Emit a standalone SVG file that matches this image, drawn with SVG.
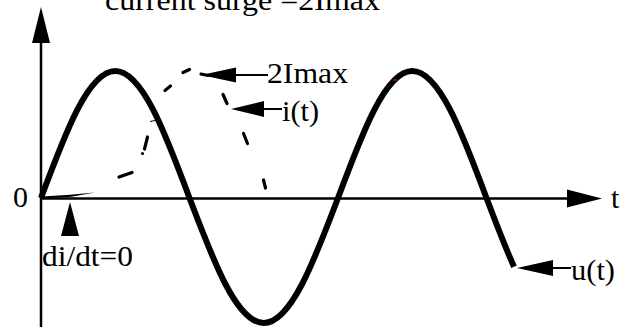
<svg xmlns="http://www.w3.org/2000/svg" width="624" height="327" viewBox="0 0 624 327">
<style>
text{font-family:"Liberation Serif","Times New Roman",serif;font-size:30px;fill:#000}
.ax{stroke:#000;stroke-width:2.5;fill:none}
.ln{stroke:#000;stroke-width:2;fill:none}
.hd{fill:#000;stroke:none}
.dash{stroke:#000;stroke-width:3.2;fill:none;stroke-linecap:round}
</style>
<rect width="624" height="327" fill="#fff"/>
<g id="axes">
<line class="ax" x1="41" y1="40" x2="41" y2="327"/>
<polygon class="hd" points="41,7 32,43 50,43"/>
<line class="ax" x1="41" y1="198.5" x2="570" y2="198.5"/>
<polygon class="hd" points="602,198.5 567,189.5 567,207.5"/>
</g>
<g id="u-curve">
<path d="M41,198 C65.22,132.94 88.38,71 115.25,71 C142.12,71 165.28,132.94 189.5,198 C213.72,262.04 236.88,323 263.75,323 C290.62,323 313.78,262.04 338,198 C362.22,132.94 385.38,71 412.25,71 C439.12,71 462.28,132.94 486.5,198 C495.67,222.25 504.83,246.45 514,266.7" fill="none" stroke="#000" stroke-width="6" stroke-linejoin="round"/>
<line x1="393.5" y1="80" x2="397" y2="80" stroke="#d00" stroke-width="1.5"/>
</g>
<g id="i-curve">
<polygon class="hd" points="42,196.5 70,194.8 95,192.6 70,197 42,198.5"/>
<line class="dash" x1="119" y1="177" x2="132" y2="172.5"/>
<line class="dash" x1="147.5" y1="137" x2="144.5" y2="149"/>
<circle class="hd" cx="142.5" cy="153.5" r="1.6"/>
<line x1="150" y1="121.5" x2="155" y2="120.5" stroke="#000" stroke-width="1"/>
<line class="dash" x1="165" y1="90.5" x2="170.5" y2="86"/>
<line class="dash" x1="183" y1="72.5" x2="189.5" y2="69.5"/>
<line class="dash" x1="201" y1="74" x2="208" y2="75.5"/>
<line class="dash" x1="223" y1="94.5" x2="227" y2="103.5"/>
<line class="dash" x1="243.5" y1="133.5" x2="247.5" y2="143.5"/>
<line class="dash" x1="263.5" y1="180" x2="265.5" y2="188"/>
</g>
<g id="labels">
<text x="105" y="10" textLength="275" lengthAdjust="spacingAndGlyphs">current surge =2Imax</text>
<g id="lbl-2imax">
<line class="ln" x1="234" y1="75" x2="268" y2="75"/>
<polygon class="hd" points="201,75 236,67.5 236,82.5"/>
<text x="267" y="83" textLength="81" lengthAdjust="spacingAndGlyphs">2Imax</text>
</g>
<g id="lbl-it">
<line class="ln" x1="262" y1="109" x2="282" y2="109"/>
<polygon class="hd" points="231,109 264,101 264,117"/>
<text x="282" y="121" textLength="37" lengthAdjust="spacingAndGlyphs">i(t)</text>
</g>
<g id="lbl-ut">
<line class="ln" x1="551" y1="268" x2="571" y2="268"/>
<polygon class="hd" points="517,268 553,260 553,276"/>
<text x="571" y="280" textLength="44" lengthAdjust="spacingAndGlyphs">u(t)</text>
</g>
<g id="lbl-didt">
<polygon class="hd" points="70,202 61,236 79,236"/>
<text x="42" y="266" textLength="91" lengthAdjust="spacingAndGlyphs">di/dt=0</text>
</g>
<text x="13" y="207">0</text>
<text x="611" y="208">t</text>
</g>
</svg>
